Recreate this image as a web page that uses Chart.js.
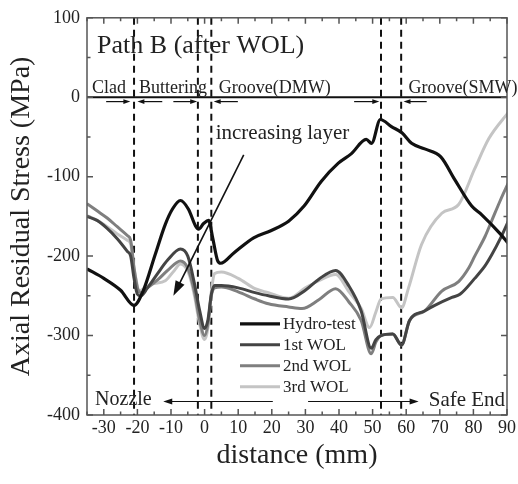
<!DOCTYPE html>
<html>
<head>
<meta charset="utf-8">
<script src="https://cdn.jsdelivr.net/npm/chart.js@4/dist/chart.umd.min.js"></script>
<style>
  html, body { margin: 0; padding: 0; background: #fff; }
</style>
</head>
<body>
<canvas id="chart" width="518" height="484"></canvas>
<script>
// distance (mm) / axial residual stress (MPa)
const hydroX = [-35, -30, -25, -21, -18.3, -14.7, -11.7, -9.6, -7.2, -4.8, -2.7, -1.8, -0.3, 1.2, 2.4, 3.9, 4.8, 8.7, 14.6, 19.7, 25, 29.6, 34.7, 39.8, 43.7, 48.1, 49.7, 52.3, 55.6, 58.8, 61.6, 65.5, 70.3, 74.5, 79.5, 82.5, 88, 90.6];
const hydroY = [-216, -228, -243, -262, -244, -198, -160, -141, -130, -141, -162, -166, -159, -155, -177, -206, -209, -196, -177, -168, -156, -137, -106, -83, -71, -53, -58, -28, -37, -45, -58, -65, -75, -104, -137, -148, -172, -185];

const wol1X = [-35, -32, -29, -26, -23, -22, -21, -20, -19, -17, -14, -11, -7.2, -5, -3, -1.5, 0, 1, 2, 3, 5, 10, 15, 19, 25, 30, 34, 39, 43, 46.6, 49.6, 51, 52.5, 56, 58.6, 61, 65.5, 68.5, 73.6, 76, 80.4, 83.5, 85.5, 88, 90.6];
const wol1Y = [-150, -155, -165, -178, -194, -200, -228, -248, -250, -240, -222, -205, -191, -200, -235, -268, -291, -280, -248, -237, -237, -240, -246, -250, -254, -243, -229, -218, -238, -269, -316, -305, -300, -298, -312, -281, -269, -262, -252, -248, -228, -212, -198, -178, -154];

const wol2X = [-35, -32, -29, -26, -23, -22, -21, -20, -19, -17, -14, -11, -7.2, -5, -3, -1.5, 0, 1, 2, 3, 5, 10, 15, 19, 25, 29, 34, 39, 43, 46.6, 49.6, 51, 52.5, 56, 58.6, 61, 65.5, 70.6, 75.6, 78.6, 80.4, 83.5, 85.5, 88, 90.6];
const wol2Y = [-134, -143, -152, -163, -174, -180, -215, -240, -246, -240, -230, -218, -206, -215, -245, -280, -300, -285, -250, -240, -239, -245, -254, -260, -264, -266, -255, -241, -258, -281, -323, -308, -300, -298, -312, -281, -269, -244, -232, -215, -200, -175, -155, -130, -106];

const wol3X = [-35, -32, -29, -26, -23, -22, -21, -20, -19.7, -17, -15.6, -11.7, -9, -7.2, -4.8, -3, -1.5, 0, 1, 2, 3, 5, 10, 15, 19, 25, 30, 34, 39, 43, 46.6, 49.1, 51, 52.5, 56, 58.6, 60.7, 64.6, 70.6, 75.6, 80.4, 84.6, 90.6];
const wol3Y = [-149, -155, -163, -172, -180, -185, -215, -238, -244, -238, -235, -231, -218, -210, -221, -250, -285, -305, -290, -245, -222, -220, -228, -241, -246, -253, -240, -231, -223, -245, -266, -290, -270, -254, -252, -265, -240, -185, -146, -135, -90, -52, -18];

const seriesNames = ['Hydro-test', '1st WOL', '2nd WOL', '3rd WOL'];
const xTickValues = [-30, -20, -10, 0, 10, 20, 30, 40, 50, 60, 70, 80, 90];
const yTickValues = [100, 0, -100, -200, -300, -400];
const boundaryX = [-21, -2, 2, 52.5, 58.5];

const serif = "'Liberation Serif', 'DejaVu Serif', serif";
const lineColors = ['#111111', '#444444', '#7f7f7f', '#c4c4c4'];
const lineWidths = [3.2, 3, 3, 3];

// text and arrows placed in data units
const notes = [
  { text: 'Path B (after WOL)', x: -32, y: 56, size: 26 },
  { text: 'Clad', x: -33.5, y: 5.6, size: 18 },
  { text: 'Buttering', x: -19.5, y: 5.6, size: 18 },
  { text: 'Groove(DMW)', x: 4.2, y: 5.6, size: 18 },
  { text: 'Groove(SMW)', x: 60.7, y: 5.6, size: 18 },
  { text: 'increasing layer', x: 3.3, y: -52, size: 21 },
  { text: 'Nozzle', x: -32.6, y: -387.5, size: 20 },
  { text: 'Safe End', x: 66.7, y: -389, size: 21 }
];
const arrows = [
  { from: [-29.3, -5.5], to: [-22.1, -5.5], head: 7 },
  { from: [-12.6, -5.5], to: [-20, -5.5], head: 7 },
  { from: [-9.3, -5.5], to: [-2.2, -5.5], head: 7 },
  { from: [9.9, -5.5], to: [2.7, -5.5], head: 7 },
  { from: [44.5, -5.5], to: [52, -5.5], head: 7 },
  { from: [66.1, -5.5], to: [59.2, -5.5], head: 7 },
  { from: [20.3, -383], to: [-12.3, -383], head: 9 },
  { from: [30.8, -383], to: [63.7, -383], head: 9 },
  { from: [11.65, -72.5], to: [-9.3, -250], head: 15 }
];

function drawArrow(ctx, x1, y1, x2, y2, head, lw) {
  const ang = Math.atan2(y2 - y1, x2 - x1);
  const hw = head * 0.33;
  ctx.lineWidth = lw;
  ctx.beginPath();
  ctx.moveTo(x1, y1);
  ctx.lineTo(x2 - Math.cos(ang) * head * 0.8, y2 - Math.sin(ang) * head * 0.8);
  ctx.stroke();
  ctx.beginPath();
  ctx.moveTo(x2, y2);
  ctx.lineTo(x2 - Math.cos(ang) * head - Math.sin(ang) * hw, y2 - Math.sin(ang) * head + Math.cos(ang) * hw);
  ctx.lineTo(x2 - Math.cos(ang) * head + Math.sin(ang) * hw, y2 - Math.sin(ang) * head - Math.cos(ang) * hw);
  ctx.closePath();
  ctx.fill();
}

const overlay = {
  id: 'overlay',
  beforeDatasetsDraw(chart) {
    const { ctx, chartArea: a, scales: { x, y } } = chart;
    ctx.save();
    ctx.strokeStyle = '#111';
    ctx.lineWidth = 2;
    ctx.setLineDash([7, 5]);
    boundaryX.forEach(v => {
      const px = x.getPixelForValue(v);
      ctx.beginPath();
      ctx.moveTo(px, a.top);
      ctx.lineTo(px, a.bottom);
      ctx.stroke();
    });
    ctx.setLineDash([]);
    const y0 = y.getPixelForValue(0);
    ctx.beginPath();
    ctx.moveTo(a.left, y0);
    ctx.lineTo(a.right, y0);
    ctx.stroke();
    ctx.restore();
  },
  afterDatasetsDraw(chart) {
    const { ctx, chartArea: a, scales: { x, y } } = chart;
    ctx.save();

    // frame + inward ticks on all sides
    ctx.strokeStyle = '#555';
    ctx.lineWidth = 1.5;
    ctx.strokeRect(a.left, a.top, a.right - a.left, a.bottom - a.top);
    for (let v = -35; v <= 90; v += 5) {
      const px = x.getPixelForValue(v);
      const len = v % 10 === 0 ? 6 : 3.5;
      ctx.beginPath();
      ctx.moveTo(px, a.bottom); ctx.lineTo(px, a.bottom - len);
      ctx.moveTo(px, a.top); ctx.lineTo(px, a.top + len);
      ctx.stroke();
    }
    for (let v = -400; v <= 100; v += 50) {
      const py = y.getPixelForValue(v);
      const len = v % 100 === 0 ? 6 : 3.5;
      ctx.beginPath();
      ctx.moveTo(a.left, py); ctx.lineTo(a.left + len, py);
      ctx.moveTo(a.right, py); ctx.lineTo(a.right - len, py);
      ctx.stroke();
    }

    // labels
    ctx.fillStyle = '#222';
    ctx.textBaseline = 'alphabetic';
    ctx.textAlign = 'left';
    notes.forEach(n => {
      ctx.font = n.size + 'px ' + serif;
      ctx.fillText(n.text, x.getPixelForValue(n.x), y.getPixelForValue(n.y));
    });

    // arrows
    ctx.strokeStyle = '#111';
    ctx.fillStyle = '#111';
    arrows.forEach(ar => {
      drawArrow(ctx,
        x.getPixelForValue(ar.from[0]), y.getPixelForValue(ar.from[1]),
        x.getPixelForValue(ar.to[0]), y.getPixelForValue(ar.to[1]),
        ar.head, ar.head > 12 ? 1.6 : 1.2);
    });

    // legend
    const lx = a.left + 153, ly = a.top + 306;
    ctx.font = '17px ' + serif;
    chart.data.datasets.forEach((ds, i) => {
      const yy = ly + i * 21;
      ctx.strokeStyle = ds.borderColor;
      ctx.lineWidth = ds.borderWidth;
      ctx.beginPath();
      ctx.moveTo(lx, yy);
      ctx.lineTo(lx + 40, yy);
      ctx.stroke();
      ctx.fillStyle = '#222';
      ctx.fillText(ds.label, lx + 43, yy + 5);
    });
    ctx.restore();
  }
};

const seriesX = [hydroX, wol1X, wol2X, wol3X];
const seriesY = [hydroY, wol1Y, wol2Y, wol3Y];

new Chart(document.getElementById('chart'), {
  type: 'line',
  data: {
    datasets: seriesNames.map((name, i) => ({
      label: name,
      data: seriesX[i].map((v, k) => ({ x: v, y: seriesY[i][k] })),
      borderColor: lineColors[i],
      borderWidth: lineWidths[i],
      pointRadius: 0,
      fill: false,
      cubicInterpolationMode: 'monotone'
    }))
  },
  options: {
    responsive: false,
    animation: false,
    layout: { padding: { top: 15, right: 11, bottom: 0, left: 0 } },
    plugins: { legend: { display: false }, tooltip: { enabled: false } },
    scales: {
      x: {
        type: 'linear',
        min: -35,
        max: 90,
        grid: { display: false, drawTicks: false },
        border: { display: false },
        afterBuildTicks: s => { s.ticks = xTickValues.map(v => ({ value: v })); },
        afterFit: s => { s.height = 69; },
        ticks: { font: { family: serif, size: 18 }, color: '#222', padding: 2, maxRotation: 0, autoSkip: false },
        title: { display: true, text: 'distance (mm)', font: { family: serif, size: 28 }, color: '#222', padding: { top: 0, bottom: 12 } }
      },
      y: {
        type: 'linear',
        min: -400,
        max: 100,
        grid: { display: false, drawTicks: false },
        border: { display: false },
        afterBuildTicks: s => { s.ticks = yTickValues.map(v => ({ value: v })); },
        afterFit: s => { s.width = 87; },
        ticks: { font: { family: serif, size: 18 }, color: '#222', padding: 7, autoSkip: false },
        title: { display: true, text: 'Axial Residual Stress (MPa)', font: { family: serif, size: 28 }, color: '#222', padding: { top: 5, bottom: 0 } }
      }
    }
  },
  plugins: [overlay]
});
</script>
</body>
</html>
